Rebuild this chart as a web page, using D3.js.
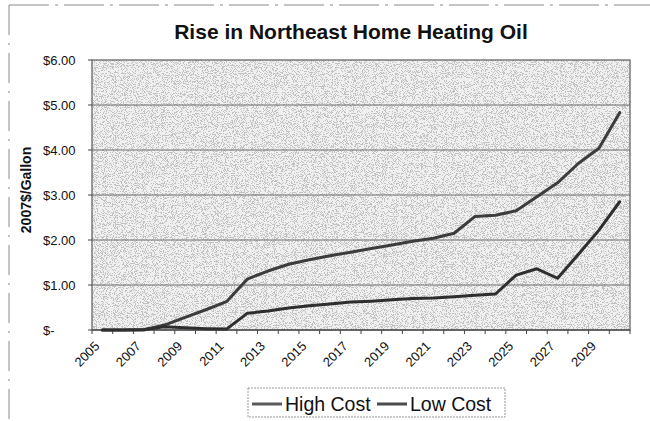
<!DOCTYPE html>
<html>
<head>
<meta charset="utf-8">
<script src="https://cdn.jsdelivr.net/npm/d3@7"></script>
<style>
  html, body { margin: 0; padding: 0; background: #fff; }
  svg { display: block; font-family: Arial, "Liberation Sans", sans-serif; }
</style>
</head>
<body>
<svg id="chart" width="650" height="421"></svg>
<script>
const years = ["2005","2006","2007","2008","2009","2010","2011","2012","2013","2014","2015","2016","2017",
               "2018","2019","2020","2021","2022","2023","2024","2025","2026","2027","2028","2029","2030"];
const xTickLabels = ["2005","2007","2009","2011","2013","2015","2017","2019","2021","2023","2025","2027","2029"];
const highCost = [0, 0, 0, 0.11, 0.28, 0.45, 0.63, 1.13, 1.31, 1.46, 1.56, 1.65, 1.73, 1.81, 1.89, 1.97, 2.04, 2.15,
                  2.52, 2.55, 2.65, 2.96, 3.27, 3.70, 4.04, 4.83];
const lowCost  = [0, 0, 0.01, 0.07, 0.05, 0.03, 0.02, 0.37, 0.42, 0.49, 0.54, 0.58, 0.62, 0.64, 0.67, 0.70, 0.71, 0.74,
                  0.77, 0.80, 1.22, 1.36, 1.15, 1.68, 2.22, 2.85];
const yTicks = [0, 1, 2, 3, 4, 5, 6];
const yTickLabels = ["$-", "$1.00", "$2.00", "$3.00", "$4.00", "$5.00", "$6.00"];
const seriesNames = ["High Cost", "Low Cost"];
const title = "Rise in Northeast Home Heating Oil";
const yTitle = "2007$/Gallon";

const svg = d3.select("#chart");
const L = 92, R = 630, T = 60, B = 330;

const x = d3.scaleBand().domain(years).range([L, R]);
const y = d3.scaleLinear().domain([0, 6]).range([B, T]);

// stipple texture filter for scanned look
const defs = svg.append("defs");
const f = defs.append("filter").attr("id", "stipple")
  .attr("x", 0).attr("y", 0).attr("width", 1).attr("height", 1)
  .attr("filterUnits", "objectBoundingBox");
f.append("feTurbulence").attr("type", "fractalNoise").attr("baseFrequency", 1.1)
  .attr("numOctaves", 1).attr("seed", 7).attr("result", "t");
f.append("feColorMatrix").attr("type", "matrix")
  .attr("values", "1 0 0 0 0  1 0 0 0 0  1 0 0 0 0  0 0 0 0 1").attr("result", "g");
const ct = f.append("feComponentTransfer");
const tv = "0.5 0.5 0.5 0.5 0.5 0.5 0.5 0.5 0.5 0.95 0.95 0.95 0.95 0.95 0.95 0.95 0.95 0.95 0.95 0.95";
ct.append("feFuncR").attr("type", "discrete").attr("tableValues", tv);
ct.append("feFuncG").attr("type", "discrete").attr("tableValues", tv);
ct.append("feFuncB").attr("type", "discrete").attr("tableValues", tv);

// outer dashed chart border (top and left)
svg.append("line").attr("x1", 9).attr("x2", 650).attr("y1", 5).attr("y2", 5)
  .attr("stroke", "#8a8a8a").attr("stroke-width", 1).attr("stroke-dasharray", "40 6 3 6");
svg.append("line").attr("x1", 9).attr("x2", 9).attr("y1", 5).attr("y2", 421)
  .attr("stroke", "#8a8a8a").attr("stroke-width", 1).attr("stroke-dasharray", "30 8 2 8");

// plot background
svg.append("rect").attr("x", L).attr("y", T).attr("width", R - L).attr("height", B - T)
  .attr("fill", "#d8d8d8");
svg.append("rect").attr("x", L).attr("y", T).attr("width", R - L).attr("height", B - T)
  .attr("filter", "url(#stipple)").attr("opacity", 0.7);

// gridlines
svg.append("g").selectAll("line").data(yTicks.filter(d => d > 0 && d < 6)).join("line")
  .attr("x1", L).attr("x2", R).attr("y1", d => y(d)).attr("y2", d => y(d))
  .attr("stroke", "#6e6e6e").attr("stroke-width", 1);

// plot border
svg.append("rect").attr("x", L).attr("y", T).attr("width", R - L).attr("height", B - T)
  .attr("fill", "none").attr("stroke", "#5a5a5a").attr("stroke-width", 1.2);

// y axis ticks & labels
svg.append("g").selectAll("line").data(yTicks).join("line")
  .attr("x1", L - 4).attr("x2", L).attr("y1", d => y(d)).attr("y2", d => y(d))
  .attr("stroke", "#444");
svg.append("g").selectAll("text").data(yTicks).join("text")
  .attr("x", 43).attr("y", d => y(d) + 4.5)
  .attr("font-size", 13).attr("fill", "#111")
  .text((d, i) => yTickLabels[i]);

// x axis line and tick marks (between categories)
svg.append("line").attr("x1", L).attr("x2", R).attr("y1", B).attr("y2", B)
  .attr("stroke", "#333").attr("stroke-width", 1.2);
const boundaries = years.map(d => x(d)).concat([R]);
svg.append("g").selectAll("line").data(boundaries).join("line")
  .attr("x1", d => d).attr("x2", d => d).attr("y1", B).attr("y2", B + 4)
  .attr("stroke", "#444");

// x labels rotated
svg.append("g").selectAll("text").data(xTickLabels).join("text")
  .attr("transform", d => `translate(${x(d) + x.bandwidth() / 2 - 2},${B + 17}) rotate(-45)`)
  .attr("text-anchor", "end").attr("font-size", 13).attr("fill", "#111")
  .text(d => d);

// lines
const lineGen = d3.line().x((d, i) => x(years[i]) + x.bandwidth() / 2).y(d => y(d));
svg.append("path").datum(highCost).attr("d", lineGen)
  .attr("fill", "none").attr("stroke", "#3c3c3c").attr("stroke-width", 3)
  .attr("stroke-linejoin", "round").attr("stroke-linecap", "round");
svg.append("path").datum(lowCost).attr("d", lineGen)
  .attr("fill", "none").attr("stroke", "#2e2e2e").attr("stroke-width", 3)
  .attr("stroke-linejoin", "round").attr("stroke-linecap", "round");

// title
svg.append("text").attr("x", 351).attr("y", 39).attr("text-anchor", "middle")
  .attr("font-size", 21).attr("font-weight", "bold").attr("fill", "#111").text(title);

// y axis title
svg.append("text").attr("transform", "translate(31,190) rotate(-90)")
  .attr("text-anchor", "middle").attr("font-size", 14).attr("font-weight", "bold")
  .attr("fill", "#111").text(yTitle);

// legend
const lg = svg.append("g");
lg.append("rect").attr("x", 248).attr("y", 388).attr("width", 257).attr("height", 29)
  .attr("fill", "#fff").attr("stroke", "#999").attr("stroke-dasharray", "2 1");
const legendItems = [
  { name: seriesNames[0], x0: 252, color: "#5a5a5a" },
  { name: seriesNames[1], x0: 377, color: "#4a4a4a" }
];
legendItems.forEach(it => {
  lg.append("line").attr("x1", it.x0).attr("x2", it.x0 + 30).attr("y1", 404).attr("y2", 404)
    .attr("stroke", it.color).attr("stroke-width", 3);
  lg.append("text").attr("x", it.x0 + 33).attr("y", 411).attr("font-size", 19.5)
    .attr("fill", "#111").text(it.name);
});
</script>
</body>
</html>
